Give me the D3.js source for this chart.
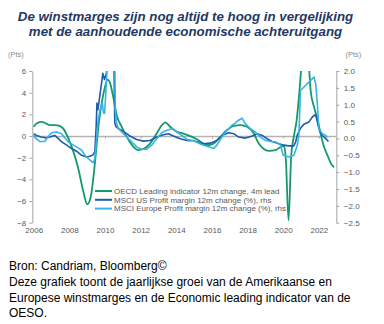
<!DOCTYPE html>
<html>
<head>
<meta charset="utf-8">
<script src="https://cdn.jsdelivr.net/npm/d3@7"></script>
<style>
  html, body { margin: 0; padding: 0; background: #fff; }
  svg { display: block; }
</style>
</head>
<body>
<svg id="chart" width="384" height="324"></svg>
<script>
// Titles, legend and footnote
const titleLines = [
  "De winstmarges zijn nog altijd te hoog in vergelijking",
  "met de aanhoudende economische achteruitgang"
];
const seriesNames = [
  "OECD Leading indicator 12m change, 4m lead",
  "MSCI US Profit margin 12m change (%), rhs",
  "MSCI Europe Profit margin 12m change (%), rhs"
];
const footLines = [
  "Bron: Candriam, Bloomberg©",
  "Deze grafiek toont de jaarlijkse groei van de Amerikaanse en",
  "Europese winstmarges en de Economic leading indicator van de",
  "OESO."
];

// Axis ticks
const yearTicks = [2006, 2008, 2010, 2012, 2014, 2016, 2018, 2020, 2022];
const leftTicks = [6, 4, 2, 0, -2, -4, -6, -8];
const rightTicks = [2.0, 1.5, 1.0, 0.5, 0.0, -0.5, -1.0, -1.5, -2.0, -2.5];

// OECD leading indicator, 12m change (pts), left axis: [year, value]
const oecd = [
  [2006.0, 0.85], [2006.2, 1.2], [2006.45, 1.3], [2006.7, 1.15], [2006.9, 1.0],
  [2007.2, 1.0], [2007.4, 0.95], [2007.65, 0.7], [2007.9, -0.05], [2008.2, -1.3],
  [2008.5, -3.0], [2008.78, -5.1], [2009.0, -6.3], [2009.2, -5.6], [2009.44, -2.4],
  [2009.62, 0.7], [2009.9, 3.8], [2010.15, 5.2], [2010.3, 4.8], [2010.45, 3.7],
  [2010.66, 1.9], [2010.94, 0.85], [2011.22, -0.07], [2011.6, -1.0], [2011.87, -1.3],
  [2012.15, -1.2], [2012.53, -0.7], [2012.9, 0.23], [2013.19, 1.0], [2013.38, 1.25],
  [2013.66, 0.85], [2014.03, 0.4], [2014.4, 0.23], [2014.85, -0.05], [2015.16, -0.3],
  [2015.53, -0.7], [2015.8, -0.85], [2016.1, -0.7], [2016.47, -0.07], [2016.85, 0.55],
  [2017.22, 0.94], [2017.6, 1.0], [2017.97, 0.85], [2018.35, 0.23], [2018.63, -0.7],
  [2018.91, -1.2], [2019.19, -1.37], [2019.57, -1.3], [2019.76, -1.1], [2020.05, -0.9],
  [2020.15, -2.2], [2020.3, -7.8], [2020.45, -1.8], [2020.6, 0.0], [2020.75, 1.4],
  [2020.92, 4.3], [2021.05, 7.0], [2021.25, 9.0], [2021.42, 7.0], [2021.54, 4.2],
  [2021.73, 2.67], [2021.92, 1.6], [2022.1, 0.2], [2022.29, -1.0], [2022.48, -1.76],
  [2022.67, -2.5], [2022.85, -2.9]
];

// MSCI US profit margin, 12m change (%), right axis: [year, value]
const msciUS = [
  [2006.0, 0.14], [2006.15, 0.09], [2006.43, 0.04], [2006.7, 0.01], [2006.9, 0.04],
  [2007.18, 0.09], [2007.37, 0.0], [2007.56, -0.1], [2007.75, -0.16], [2007.93, -0.23],
  [2008.12, -0.3], [2008.4, -0.38], [2008.69, -0.5], [2008.97, -0.55], [2009.15, -0.53],
  [2009.34, -0.48], [2009.43, -0.4], [2009.5, 0.3], [2009.55, 1.05], [2009.6, 0.85],
  [2009.77, 1.5], [2009.88, 1.93], [2009.97, 1.75], [2010.08, 1.93], [2010.15, 2.3],
  [2010.5, 2.3], [2010.55, 0.45], [2010.62, 0.35], [2010.75, 0.29], [2010.94, 0.24],
  [2011.22, 0.14], [2011.4, 0.07], [2011.78, -0.03], [2012.15, -0.08], [2012.53, -0.06],
  [2012.9, 0.04], [2013.28, 0.11], [2013.56, 0.14], [2013.84, 0.07], [2014.22, -0.01],
  [2014.6, -0.06], [2014.97, -0.07], [2015.16, -0.1], [2015.53, -0.16], [2015.9, -0.14],
  [2016.28, -0.06], [2016.66, 0.11], [2016.94, 0.17], [2017.22, 0.14], [2017.5, 0.04],
  [2017.88, 0.01], [2018.26, 0.07], [2018.54, 0.14], [2018.82, 0.09], [2019.1, -0.01],
  [2019.38, -0.09], [2019.76, -0.16], [2020.04, -0.2], [2020.32, -0.22], [2020.6, -0.22],
  [2020.7, -0.1], [2020.79, 0.1], [2020.97, 0.3], [2021.16, 0.42], [2021.44, 0.49],
  [2021.63, 0.63], [2021.78, 0.7], [2021.85, 0.65], [2021.95, 0.4], [2022.05, 0.22],
  [2022.2, 0.08], [2022.38, 0.0], [2022.54, -0.09]
];

// MSCI Europe profit margin, 12m change (%), right axis: [year, value]
const msciEurope = [
  [2006.0, 0.1], [2006.15, -0.01], [2006.34, -0.09], [2006.62, -0.09], [2006.8, 0.04],
  [2007.0, 0.17], [2007.28, 0.19], [2007.56, 0.14], [2007.75, 0.01], [2007.93, -0.1],
  [2008.21, -0.19], [2008.5, -0.28], [2008.69, -0.35], [2008.87, -0.5], [2009.06, -0.6],
  [2009.25, -0.68], [2009.34, -0.72], [2009.43, -0.6], [2009.53, 0.0], [2009.62, 0.58],
  [2009.72, 0.84], [2009.85, 1.05], [2009.92, 0.75], [2009.98, 0.75], [2010.05, 1.4],
  [2010.15, 2.4], [2010.55, 2.4], [2010.58, 0.82], [2010.65, 0.45], [2010.75, 0.29],
  [2010.94, 0.19], [2011.22, 0.04], [2011.5, -0.1], [2011.78, -0.25], [2012.06, -0.32],
  [2012.34, -0.32], [2012.62, -0.2], [2012.9, -0.01], [2013.19, 0.17], [2013.47, 0.24],
  [2013.75, 0.29], [2014.03, 0.19], [2014.31, 0.09], [2014.6, -0.03], [2014.97, -0.06],
  [2015.07, -0.09], [2015.44, -0.19], [2015.81, -0.25], [2016.1, -0.3], [2016.28, -0.2],
  [2016.56, 0.04], [2016.85, 0.24], [2017.13, 0.39], [2017.32, 0.46], [2017.5, 0.54],
  [2017.69, 0.6], [2017.88, 0.43], [2018.16, 0.29], [2018.44, 0.19], [2018.72, 0.04],
  [2019.0, -0.06], [2019.38, -0.1], [2019.57, -0.1], [2019.85, -0.2], [2020.0, -0.5],
  [2020.32, -0.55], [2020.6, -0.5], [2020.79, -0.2], [2020.88, 0.09], [2020.97, 1.42],
  [2021.25, 1.57], [2021.54, 1.72], [2021.73, 1.82], [2021.83, 1.6], [2021.92, 0.98],
  [2022.0, 0.29], [2022.2, 0.14], [2022.38, 0.09], [2022.48, 0.04]
];

const colors = ["#15996b", "#1f5ca8", "#35b4e8"];
const axisGray = "#a6a6a6";
const textGray = "#595959";
const font = "Arial, 'Liberation Sans', sans-serif";

const svg = d3.select("#chart");
svg.append("rect").attr("width", 384).attr("height", 324).attr("fill", "#fff");

// Plot frame
const plot = { left: 32.3, right: 336.3, top: 71, bottom: 222.7 };

const x = d3.scaleLinear().domain([2005.92, 2022.98]).range([plot.left, plot.right]);
const yL = d3.scaleLinear().domain([-8, 6]).range([plot.bottom, plot.top]);
const yR = d3.scaleLinear().domain([-2.5, 2]).range([plot.bottom, plot.top]);

// Title
svg.append("g").selectAll("text").data(titleLines).join("text")
  .attr("x", 185.5).attr("y", (d, i) => 20.5 + i * 15.5)
  .attr("text-anchor", "middle")
  .attr("font-family", font).attr("font-size", 13.3)
  .attr("font-weight", "bold").attr("font-style", "italic")
  .attr("fill", "#1f3864")
  .text(d => d);

// Unit labels
svg.append("text").attr("x", 8).attr("y", 57).attr("font-family", font)
  .attr("font-size", 7.5).attr("fill", "#8c8c8c").text("(Pts)");
svg.append("text").attr("x", 345.5).attr("y", 57).attr("font-family", font)
  .attr("font-size", 7.5).attr("fill", "#8c8c8c").text("(Pts)");

function styleAxis(g) {
  g.selectAll("path, line").attr("stroke", axisGray).attr("stroke-width", 1);
  g.selectAll("text").attr("fill", textGray).attr("font-family", font).attr("font-size", 8);
}

// Left axis
svg.append("g").attr("transform", `translate(${plot.left},0)`)
  .call(d3.axisLeft(yL).tickValues(leftTicks).tickSize(3).tickSizeOuter(0).tickPadding(3)
    .tickFormat(d3.format("d")))
  .call(styleAxis);

// Right axis
svg.append("g").attr("transform", `translate(${plot.right},0)`)
  .call(d3.axisRight(yR).tickValues(rightTicks).tickSize(3).tickSizeOuter(0).tickPadding(4.5)
    .tickFormat(d3.format(".1f")))
  .call(styleAxis);

// Zero line with year ticks
svg.append("g").attr("transform", `translate(0,${yL(0)})`)
  .call(d3.axisBottom(x).tickValues(yearTicks).tickSize(2.5).tickSizeOuter(0).tickFormat(""))
  .call(styleAxis)
  .call(g => g.select(".domain").attr("stroke-width", 1.3).attr("stroke", "#b3b3b3"));

// Year labels along the bottom
svg.append("g").attr("transform", `translate(0,${plot.bottom})`)
  .call(d3.axisBottom(x).tickValues(yearTicks).tickSize(0).tickPadding(5).tickFormat(d3.format("d")))
  .call(styleAxis)
  .call(g => g.select(".domain").remove());

// Series lines, clipped to the plot area
svg.append("clipPath").attr("id", "plot-clip").append("rect")
  .attr("x", plot.left).attr("y", plot.top)
  .attr("width", plot.right - plot.left).attr("height", plot.bottom - plot.top);

const lineL = d3.line().x(d => x(d[0])).y(d => yL(d[1])).curve(d3.curveMonotoneX);
const lineR = d3.line().x(d => x(d[0])).y(d => yR(d[1]));

const lines = svg.append("g").attr("clip-path", "url(#plot-clip)");
lines.append("path").datum(oecd).attr("d", lineL)
  .attr("fill", "none").attr("stroke", colors[0]).attr("stroke-width", 1.8).attr("stroke-linejoin", "round");
lines.append("path").datum(msciUS).attr("d", lineR)
  .attr("fill", "none").attr("stroke", colors[1]).attr("stroke-width", 1.6).attr("stroke-linejoin", "round");
lines.append("path").datum(msciEurope).attr("d", lineR)
  .attr("fill", "none").attr("stroke", colors[2]).attr("stroke-width", 1.6).attr("stroke-linejoin", "round");

// Legend
const legend = svg.append("g").selectAll("g").data(seriesNames).join("g")
  .attr("transform", (d, i) => `translate(95,${191 + i * 8.8})`);
legend.append("line").attr("x1", 0).attr("x2", 17).attr("y1", 0).attr("y2", 0)
  .attr("stroke", (d, i) => colors[i]).attr("stroke-width", 2);
legend.append("text").attr("x", 19).attr("dy", "0.35em")
  .attr("font-family", font).attr("font-size", 8).attr("fill", textGray)
  .text(d => d);

// Footnote
svg.append("g").selectAll("text").data(footLines).join("text")
  .attr("x", 9).attr("y", (d, i) => 270 + i * 15.8)
  .attr("font-family", font).attr("font-size", 12).attr("fill", "#000")
  .text(d => d);
</script>
</body>
</html>
